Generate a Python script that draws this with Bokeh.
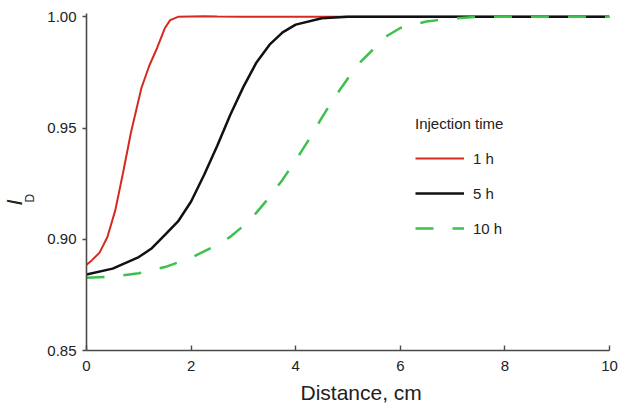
from bokeh.plotting import figure
from bokeh.models import (Range1d, FixedTicker, PrintfTickFormatter, Legend, LegendItem, Title)
from bokeh.embed import file_html
from bokeh.resources import INLINE

# ---- data ----
red_x = [0, 0.1, 0.25, 0.4, 0.55, 0.7, 0.85, 0.95, 1.05, 1.2, 1.35, 1.5, 1.6, 1.75, 2.0, 2.25, 2.5, 3, 4, 5, 6, 7, 8, 9, 10]
red_y = [0.8885, 0.8905, 0.894, 0.901, 0.913, 0.930, 0.948, 0.958, 0.968, 0.978, 0.986, 0.995, 0.9985, 1.0,
         1.0002, 1.0003, 1.0001, 1.0, 1.0, 1.0, 1.0, 1.0, 1.0, 1.0, 1.0]

black_x = [0, 0.5, 1.0, 1.25, 1.5, 1.75, 2.0, 2.25, 2.5, 2.75, 3.0, 3.25, 3.5, 3.75, 4.0, 4.5, 5, 6, 7, 8, 9, 10]
black_y = [0.8842, 0.8868, 0.8920, 0.8960, 0.9020, 0.9080, 0.9170, 0.9290, 0.9420, 0.9560, 0.9685, 0.9795,
           0.9875, 0.9930, 0.9965, 0.9994, 1.0, 1.0, 1.0, 1.0, 1.0, 1.0]

green_x = [0, 0.5, 1.0, 1.5, 2.0, 2.5, 2.75, 3.0, 3.25, 3.5, 3.75, 4.0, 4.25, 4.5, 4.75, 5.0, 5.25, 5.5,
           5.75, 6.0, 6.5, 7.0, 7.5, 8, 9, 10]
green_y = [0.8827, 0.8832, 0.8847, 0.8875, 0.8917, 0.8975, 0.9011, 0.9060, 0.9120, 0.9190, 0.9268, 0.9355,
           0.9447, 0.9547, 0.9640, 0.9724, 0.9800, 0.9858, 0.9915, 0.9950, 0.9979, 0.9993, 1.0, 1.0, 1.0, 1.0]

x_ticks = [0, 2, 4, 6, 8, 10]
y_ticks = [0.85, 0.90, 0.95, 1.00]
series_labels = ["1 h", "5 h", "10 h"]
legend_title = "Injection time"
x_label = "Distance, cm"
y_label_main = "I"
y_label_sub = "D"

FONT = "Liberation Sans"

p = figure(width=618, height=409, output_backend="svg", toolbar_location=None,
           x_range=Range1d(0, 10), y_range=Range1d(0.85, 1.0015),
           min_border_left=86, min_border_right=9, min_border_top=13, min_border_bottom=59)
p.outline_line_color = None
p.xgrid.visible = False
p.ygrid.visible = False
p.background_fill_color = "white"

r1 = p.line(red_x, red_y, line_color="#d42a1f", line_width=2)
r2 = p.line(black_x, black_y, line_color="#111111", line_width=2.5)
r3 = p.line(green_x, green_y, line_color="#3cc04e", line_width=2.5, line_dash="18 19")

for ax in (p.xaxis[0], p.yaxis[0]):
    ax.axis_line_color = "#4a4a4a"
    ax.axis_line_width = 1.6
    ax.major_tick_line_color = "#4a4a4a"
    ax.major_tick_line_width = 1.4
    ax.minor_tick_line_color = None
    ax.major_label_text_font = FONT
    ax.major_label_text_font_size = "15px"
    ax.major_label_text_color = "#222222"

p.xaxis.ticker = FixedTicker(ticks=x_ticks)
p.xaxis.major_tick_in = 5
p.xaxis.major_tick_out = 0
p.xaxis.major_label_standoff = 10

p.yaxis.ticker = FixedTicker(ticks=y_ticks)
p.yaxis.formatter = PrintfTickFormatter(format="%.2f")
p.yaxis.major_tick_in = 0
p.yaxis.major_tick_out = 4
p.yaxis.major_label_standoff = 6

legend = Legend(items=[LegendItem(label=series_labels[0], renderers=[r1]),
                       LegendItem(label=series_labels[1], renderers=[r2]),
                       LegendItem(label=series_labels[2], renderers=[r3])],
                title=legend_title, location=(329, 112))
legend.border_line_color = None
legend.background_fill_alpha = 0
legend.padding = 0
legend.margin = 0
legend.glyph_width = 49
legend.glyph_height = 20
legend.label_height = 20
legend.spacing = 15
legend.label_standoff = 9
legend.title_standoff = 16
legend.label_text_font = FONT
legend.label_text_font_size = "15px"
legend.label_text_color = "#222222"
legend.title_text_font = FONT
legend.title_text_font_size = "15px"
legend.title_text_font_style = "normal"
legend.title_text_color = "#222222"
p.add_layout(legend, "center")

# x axis label as a title below the axis, positioned from the frame's left edge
xt = Title(text=x_label, align="left", offset=214, standoff=11, vertical_align="bottom",
           text_font=FONT, text_font_size="21px", text_font_style="normal", text_color="#222222")
p.add_layout(xt, "below")

# y axis label: italic I with subscript D
dt = Title(text=y_label_sub, align="left", offset=148, standoff=15, text_font=FONT,
           text_font_size="12px", text_font_style="normal", text_color="#222222")
p.add_layout(dt, "left")
it = Title(text=y_label_main, align="left", offset=145, standoff=-27, text_font=FONT,
           text_font_size="22px", text_font_style="italic", text_color="#222222")
p.add_layout(it, "left")

open("out.html", "w").write(file_html(p, INLINE))
